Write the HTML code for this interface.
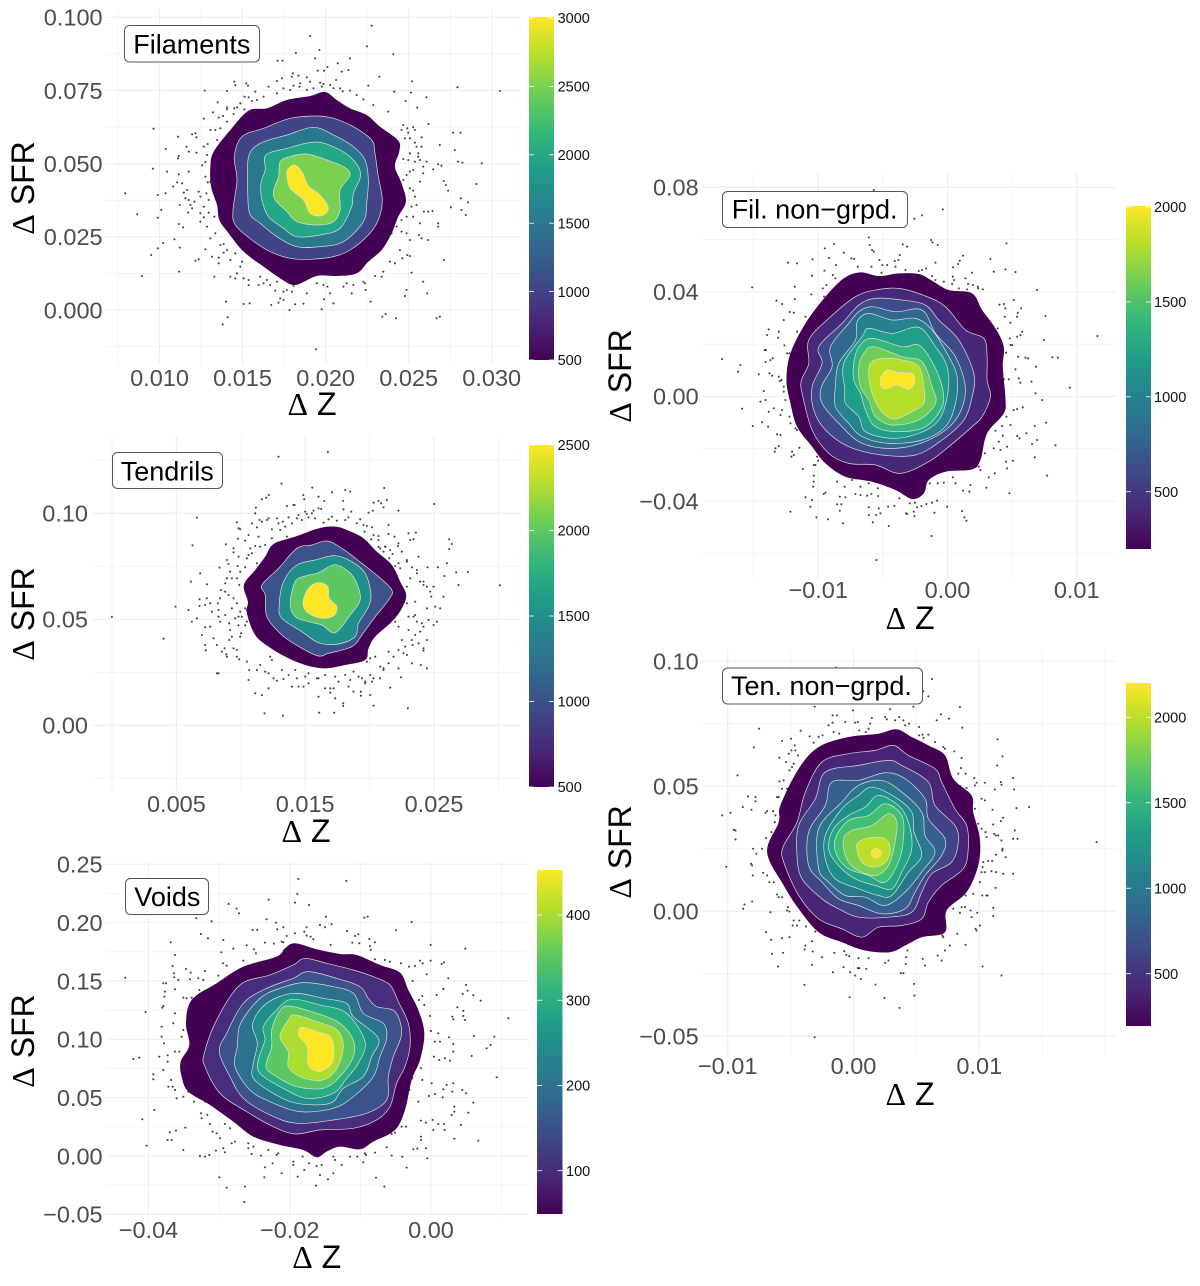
<!DOCTYPE html>
<html lang="en">
<head>
<meta charset="utf-8">
<title>Delta SFR vs Delta Z density panels</title>
<style>
html,body{margin:0;padding:0;background:#fff;}
svg{display:block;font-family:"Liberation Sans",sans-serif;filter:blur(0.3px);}
.tick{font-size:23.5px;fill:#4d4d4d;}
.bar-label{font-size:14.5px;fill:#111;}
.axis-title{font-size:32px;fill:#000;text-anchor:middle;}
.axis-title .delta{font-family:"Liberation Serif",serif;}
.panel-title{font-size:27px;fill:#000;}
.panel-box{fill:#fff;stroke:#555;stroke-width:1;}
</style>
</head>
<body>
<svg xmlns="http://www.w3.org/2000/svg" width="1200" height="1286" viewBox="0 0 1200 1286">
<defs>
<linearGradient id="viridis" x1="0" y1="1" x2="0" y2="0">
<stop offset="0" stop-color="#440154"/><stop offset="0.111" stop-color="#482878"/><stop offset="0.222" stop-color="#3e4989"/><stop offset="0.333" stop-color="#31688e"/><stop offset="0.444" stop-color="#26828e"/><stop offset="0.556" stop-color="#1f9e89"/><stop offset="0.667" stop-color="#35b779"/><stop offset="0.778" stop-color="#6ece58"/><stop offset="0.889" stop-color="#b5de2b"/><stop offset="1" stop-color="#fde725"/>
</linearGradient>
</defs>

<g id="panel-filaments">
<g class="grid"></g>
<g class="points"></g>
<g class="contours"></g>
<g class="ticks"></g>
<rect class="panel-box" x="124.5" y="25.5" width="135" height="36.5" rx="5"/>
<text class="panel-title" x="133.3" y="53.3">Filaments</text>
<text class="axis-title" transform="translate(34,188) rotate(-90)"><tspan class="delta">Δ</tspan> SFR</text>
<text class="axis-title" x="312" y="415"><tspan class="delta">Δ</tspan> Z</text>
<rect x="529" y="17" width="25" height="343" fill="url(#viridis)"/>
<g class="bar"></g>
</g>

<g id="panel-tendrils">
<g class="grid"></g>
<g class="points"></g>
<g class="contours"></g>
<g class="ticks"></g>
<rect class="panel-box" x="112.5" y="452.5" width="110" height="36" rx="5"/>
<text class="panel-title" x="120.7" y="480.3">Tendrils</text>
<text class="axis-title" transform="translate(34,614) rotate(-90)"><tspan class="delta">Δ</tspan> SFR</text>
<text class="axis-title" x="306" y="842"><tspan class="delta">Δ</tspan> Z</text>
<rect x="529" y="445" width="25" height="342" fill="url(#viridis)"/>
<g class="bar"></g>
</g>

<g id="panel-voids">
<g class="grid"></g>
<g class="points"></g>
<g class="contours"></g>
<g class="ticks"></g>
<rect class="panel-box" x="125.5" y="878.5" width="83" height="36" rx="5"/>
<text class="panel-title" x="134.3" y="906">Voids</text>
<text class="axis-title" transform="translate(34,1041) rotate(-90)"><tspan class="delta">Δ</tspan> SFR</text>
<text class="axis-title" x="316.7" y="1268"><tspan class="delta">Δ</tspan> Z</text>
<rect x="537" y="870" width="25.5" height="344" fill="url(#viridis)"/>
<g class="bar"></g>
</g>

<g id="panel-filnon">
<g class="grid"></g>
<g class="points"></g>
<g class="contours"></g>
<g class="ticks"></g>
<rect class="panel-box" x="722.5" y="191.5" width="185" height="36" rx="5"/>
<text class="panel-title" x="731.7" y="218.7">Fil. non−grpd.</text>
<text class="axis-title" transform="translate(631,376) rotate(-90)"><tspan class="delta">Δ</tspan> SFR</text>
<text class="axis-title" x="910" y="629"><tspan class="delta">Δ</tspan> Z</text>
<rect x="1126" y="206" width="25" height="343" fill="url(#viridis)"/>
<g class="bar"></g>
</g>

<g id="panel-tennon">
<g class="grid"></g>
<g class="points"></g>
<g class="contours"></g>
<g class="ticks"></g>
<rect class="panel-box" x="722.5" y="668" width="200" height="36" rx="5"/>
<text class="panel-title" x="731" y="695">Ten. non−grpd.</text>
<text class="axis-title" transform="translate(631,852) rotate(-90)"><tspan class="delta">Δ</tspan> SFR</text>
<text class="axis-title" x="910" y="1105"><tspan class="delta">Δ</tspan> Z</text>
<rect x="1126" y="683" width="25" height="343" fill="url(#viridis)"/>
<g class="bar"></g>
</g>
</svg>

<script>
/* ---- values ---- */
/* Contours and scatter values are offsets from each panel's mean, in hundredths of that panel's sd, as flat dx,dy lists. */

const palette5 = ['#440154','#3b528b','#21908c','#5dc863','#fde725'];
const palette6 = ['#440154','#414487','#2a788e','#22a884','#7ad151','#fde725'];
const palette9 = ['#440154','#472d7b','#3b528b','#2c728e','#21908c','#27ad81','#5dc863','#aadc32','#fde725'];
const palette10 = ['#440154','#482878','#3e4a89','#31688e','#26828e','#1f9e89','#35b779','#6ece58','#b5de2b','#fde725'];
const palette11 = ['#440154','#482576','#414487','#35608d','#2a788e','#21908c','#22a884','#43bf71','#7ad151','#bddf26','#fde725'];

/* Filaments */
const filamentsMeanX = 0.01967, filamentsMeanY = 0.04214, filamentsSdX = 0.002002, filamentsSdY = 0.011388;
const filamentsXMajor = [0.010,0.015,0.020,0.025,0.030];
const filamentsXLabels = ['0.010','0.015','0.020','0.025','0.030'];
const filamentsXMinor = [0.0075,0.0125,0.0175,0.0225,0.0275];
const filamentsYMajor = [0,0.025,0.05,0.075,0.1];
const filamentsYLabels = ['0.000','0.025','0.050','0.075','0.100'];
const filamentsYMinor = [-0.0125,0.0125,0.0375,0.0625,0.0875];
const filamentsBarTicks = [500,1000,1500,2000,2500,3000];
const filamentsContours = [
[15,284,50,260,90,235,140,215,180,180,235,138,238,105,225,60,245,10,258,-45,235,-90,215,-140,185,-190,145,-225,110,-260,50,-268,-10,-268,-75,-295,-120,-275,-170,-240,-230,-195,-275,-140,-303,-100,-310,-55,-328,0,-330,60,-320,105,-270,170,-215,228,-160,235,-100,260,-30,272],
[-10,212,40,205,100,180,155,140,165,100,175,30,187,-40,175,-100,145,-145,90,-190,40,-210,-30,-218,-90,-215,-150,-195,-205,-160,-255,-115,-262,-70,-250,20,-258,90,-235,150,-170,175,-90,205],
[-20,178,40,155,100,120,135,80,145,20,140,-50,130,-105,70,-165,0,-180,-70,-180,-130,-150,-180,-110,-212,-80,-218,0,-215,90,-180,130,-100,155],
[-15,134,50,115,100,80,122,35,100,-20,95,-60,60,-125,0,-145,-70,-150,-110,-125,-155,-90,-175,-40,-178,10,-165,50,-163,95,-100,115],
[-40,98,20,80,70,60,90,35,60,-10,60,-70,40,-105,-10,-115,-70,-105,-100,-75,-135,-40,-140,-10,-125,30,-120,75,-90,90],
[-75,65,-52,40,-35,2,0,-25,25,-65,5,-87,-30,-80,-50,-40,-90,-5,-100,35,-95,55]
];
const filamentsPoints = [155,483,-30,452,141,421,-2,410,-73,401,220,397,90,385,-15,385,-128,378,-113,378,53,370,22,359,-7,348,12,348,85,350,65,345,-82,340,-65,333,-85,330,48,320,-40,328,-30,315,0,312,10,308,5,300,-80,303,-62,300,-130,317,-115,325,-155,300,-110,295,-40,290,40,295,68,286,90,288,110,275,145,303,178,330,277,316,273,282,223,285,257,257,320,268,413,298,541,287,292,237,-258,315,-255,304,-222,310,-217,303,-347,288,-280,287,-308,253,-280,238,-195,285,-215,268,-227,270,-190,260,-205,257,-258,235,-250,238,-228,232,-322,223,-350,204,-292,212,-305,207,-260,218,-280,232,-330,170,-315,170,-300,175,-501,174,-385,157,-375,160,-372,148,-427,150,-402,120,-464,113,-503,54,-425,92,-427,85,-350,120,-372,102,-395,105,-338,128,-345,74,-355,64,-395,45,-460,45,-425,37,-415,10,-430,13,-442,0,-400,-10,-410,-18,-488,-25,-465,-20,-586,-20,-378,-45,-395,-40,-390,-55,-360,-30,-335,-40,-342,-20,-338,13,-330,15,-422,-55,-405,-35,-385,-65,-550,-83,-478,-70,-488,-93,-397,-78,-360,-80,-360,-105,-350,-92,-425,-112,-412,-122,-318,-90,-335,-78,-330,-155,-315,-140,-438,-158,-472,-169,-488,-185,-508,-205,-422,-183,-345,-188,-375,-222,-365,-218,-325,-210,-305,-213,-305,-230,-424,-255,-536,-268,-290,-172,-280,-190,-290,-198,-255,-200,-235,-225,-318,-270,-270,-270,-250,-260,-255,-275,-230,-275,-215,-280,-215,-295,-185,-295,-170,-290,-160,-280,-130,-285,-135,-312,-110,-315,-80,-298,-85,-315,-120,-335,-110,-340,-125,-348,-147,-355,-230,-352,-212,-350,-283,-345,-278,-392,-293,-413,-92,-370,-75,-353,-50,-351,10,-295,-10,-290,22,-300,40,-350,12,-338,5,-368,80,-290,100,-295,135,-290,165,-268,185,-270,137,-310,95,-320,152,-345,225,-230,262,-205,270,-208,247,-215,275,-258,260,-310,255,-328,310,-285,322,-320,372,-220,325,-160,305,-155,297,-145,260,-140,245,-135,215,-140,230,-120,245,-100,275,-60,260,-90,280,-90,325,-75,338,-73,312,-75,355,-110,355,-120,393,-62,423,-35,445,-47,425,-70,438,-85,372,17,378,5,385,-12,470,8,486,70,428,72,415,75,405,110,360,125,400,162,422,162,326,188,305,148,280,178,262,175,245,170,265,162,255,145,285,132,270,100,295,100,305,120,295,90,250,83,265,80,285,75,320,75,310,60,280,50,270,45,340,52,355,67,365,63,250,20,270,-5,280,-12,260,35,187,-390,197,-382,228,-395,350,-395,360,-390,-12,-488,
-60,310,-20,295,30,305,60,295,130,262,160,245,205,225,250,185,285,170,270,145,290,120,300,80,310,40,300,15,285,-30,290,-55,300,-110,270,-160,240,-190,210,-225,190,-255,130,-285,70,-300,30,-320,-40,-320,-100,-310,-150,-295,-180,-270,-240,-240,-270,-220,-300,-175,-340,-120,-350,-60,-365,-15,-345,30,-340,95,-310,140,-280,195,-240,250,-170,270,-130,280,-90,290];

/* Tendrils */
const tendrilsMeanX = 0.015, tendrilsMeanY = 0.05596, tendrilsSdX = 0.002588, tendrilsSdY = 0.015723;
const tendrilsXMajor = [0.005,0.015,0.025];
const tendrilsXLabels = ['0.005','0.015','0.025'];
const tendrilsXMinor = [0,0.01,0.02,0.03];
const tendrilsYMajor = [0,0.05,0.1];
const tendrilsYLabels = ['0.00','0.05','0.10'];
const tendrilsYMinor = [-0.025,0.025,0.075,0.125];
const tendrilsBarTicks = [500,1000,1500,2000,2500];
const tendrilsContours = [
[90,240,130,228,175,205,215,165,260,125,285,75,303,35,290,-5,260,-45,210,-90,190,-125,180,-160,120,-175,60,-185,0,-175,-60,-150,-110,-120,-150,-85,-175,-20,-172,15,-184,65,-150,110,-120,150,-95,188,-30,210,40,235],
[65,197,110,175,170,130,220,90,260,50,250,20,210,-30,170,-85,140,-120,70,-140,40,-148,-10,-125,-70,-85,-115,-30,-120,35,-130,65,-80,115,-25,175,20,185],
[90,153,140,135,180,100,197,40,190,0,160,-50,150,-90,100,-112,40,-108,-10,-75,-70,-35,-78,5,-65,75,-25,125,30,140],
[88,126,130,105,155,70,165,20,135,-25,90,-78,50,-55,10,-45,-30,-30,-45,10,-30,75,0,92,40,102],
[40,72,68,60,72,25,95,0,85,-28,50,-35,10,-20,-7,10,10,55]
];
const tendrilsPoints = [68,464,-80,450,-71,369,21,357,237,356,120,350,135,345,81,343,-109,335,-130,322,-117,327,-6,335,-3,322,40,330,114,317,205,312,220,317,228,310,245,320,387,308,57,317,-55,302,-35,305,-32,305,40,295,48,293,25,288,0,285,5,278,115,292,138,285,190,282,203,288,235,298,280,288,-148,297,-150,280,-160,250,-137,260,-130,255,-115,260,-85,265,-67,255,-50,268,-25,265,-10,260,10,268,55,252,80,270,120,260,155,250,185,242,200,238,250,245,178,225,198,202,220,200,250,218,268,210,280,190,310,220,332,222,325,202,315,200,-205,253,-200,235,-195,232,-145,238,-100,232,-75,230,-55,210,-180,198,-202,204,-150,182,-135,180,-170,155,-160,160,-175,145,-215,163,-238,187,-325,267,-338,184,-315,100,-257,117,-230,128,-203,122,-180,118,-145,130,-235,85,-220,85,-205,85,-198,65,-253,50,-240,45,-230,35,-255,25,-262,10,-260,-10,-343,75,-295,67,-317,22,-285,10,-317,2,-300,5,-350,-10,-389,0,-580,-31,-325,-35,-340,-45,-300,-62,-260,-30,-255,-45,-200,-30,-190,-30,-180,-5,-175,-10,-220,-5,-228,-50,-200,-56,-180,-56,-175,-45,-192,-80,-195,-90,-220,-90,-228,-100,-242,-125,-205,-130,-425,-96,-298,-131,-237,-143,-198,-158,-175,-165,-168,-190,-145,-190,-265,-200,-260,-200,-170,-220,-150,-260,-130,-265,-122,-320,-67,-327,-85,-222,-65,-217,-110,-200,-105,-150,-100,-160,-30,-190,-20,-240,-5,-240,10,-230,0,-210,40,-215,60,-245,85,-245,75,-258,40,-270,90,-275,114,-290,114,-298,145,-255,167,-255,167,-267,195,-265,205,-297,42,-318,87,-318,308,-305,255,-243,200,-225,205,-215,180,-225,160,-210,135,-220,235,-190,235,-185,280,-185,287,-212,320,-170,347,-175,365,-185,210,-150,185,-165,195,-155,250,-135,295,-140,305,-145,355,-125,355,-132,320,-100,345,-75,365,-100,385,-55,395,-45,370,-40,405,-5,390,0,365,-5,330,15,325,-30,330,-25,350,-50,280,-60,270,-45,305,10,305,60,315,85,355,75,355,65,375,45,385,60,415,30,460,65,418,92,453,103,488,104,584,64,432,202,440,188,432,173,425,130,398,118,367,118,335,110,305,135,340,150,280,130,270,122,285,115,252,145,255,170,240,180,278,182,220,212,220,180,240,180,
-40,250,-20,275,20,280,30,265,70,262,95,258,130,268,165,262,175,245,205,215,225,175,235,165,262,158,290,165,305,140,320,118,335,100,345,75,365,60,378,30,310,-30,335,-45,355,-60,330,-85,310,-70,290,-100,300,-120,280,-130,322,-115,340,-110,265,-150,250,-170,225,-180,195,-205,170,-215,145,-195,120,-205,90,-210,100,-225,60,-205,35,-215,10,-200,-25,-215,-50,-205,-70,-190,-95,-215,-120,-195,-135,-175,-110,-245,-40,-240,75,-245,130,-240,180,-230,225,-215,-205,-150,-215,-125,-235,-150,-250,-135,-265,-115,-225,-70,-210,-35,-195,-15,-205,10,-215,25,-240,-25,-285,-60,-275,-95,-300,-115,-310,-85,-280,-15,-295,25,-240,70,-225,105,-195,105,-200,150,-215,175,-235,140,-170,215,-165,175,-140,210,-120,185,-100,205,-80,250,-60,240,-110,265];

/* Voids */
const voidsMeanX = -0.01572, voidsMeanY = 0.10228, voidsSdX = 0.00472, voidsSdY = 0.02857;
const voidsXMajor = [-0.04,-0.02,0];
const voidsXLabels = ['−0.04','−0.02','0.00'];
const voidsXMinor = [-0.03,-0.01,0.01];
const voidsYMajor = [-0.05,0,0.05,0.1,0.15,0.2,0.25];
const voidsYLabels = ['−0.05','0.00','0.05','0.10','0.15','0.20','0.25'];
const voidsYMinor = [-0.025,0.025,0.075,0.125,0.175,0.225];
const voidsBarTicks = [100,200,300,400];
const voidsContours = [
[-75,280,-10,262,60,248,110,245,180,215,240,192,265,140,295,80,313,10,300,-70,275,-130,255,-220,225,-280,160,-315,120,-338,60,-330,20,-345,-10,-362,-50,-340,-120,-325,-200,-300,-260,-255,-330,-205,-395,-165,-415,-120,-418,-75,-392,-25,-402,40,-385,110,-310,160,-230,210,-130,240,-105,265],
[-45,235,20,220,100,200,160,180,210,155,235,105,265,40,270,-30,255,-90,230,-140,210,-210,170,-250,100,-275,0,-280,-75,-292,-140,-270,-220,-225,-300,-170,-345,-90,-347,-50,-310,50,-240,155,-150,185,-80,215],
[-35,195,50,175,120,150,145,115,170,90,225,75,245,10,220,-60,205,-120,200,-190,140,-230,40,-250,-70,-260,-150,-235,-230,-185,-270,-120,-302,-45,-280,10,-230,100,-160,145,-80,175],
[-50,162,30,152,100,130,130,70,190,40,200,-5,180,-60,160,-120,100,-180,40,-215,-60,-225,-150,-195,-210,-160,-255,-90,-248,-30,-238,40,-180,115,-120,145],
[-80,130,10,115,80,100,100,60,175,-5,155,-60,130,-120,70,-155,30,-200,-70,-200,-140,-170,-200,-125,-200,-80,-188,-20,-202,40,-160,100],
[-85,112,0,95,80,70,135,-15,115,-80,80,-125,40,-170,-40,-185,-120,-150,-180,-110,-185,-70,-165,-10,-170,30,-130,80],
[-95,92,-10,70,60,40,100,-10,100,-60,60,-120,10,-155,-70,-150,-130,-120,-162,-90,-145,-30,-145,20,-125,70],
[-75,65,-10,45,45,25,68,-10,65,-60,40,-110,0,-132,-60,-120,-95,-90,-95,-45,-120,0,-95,50],
[-50,28,-10,15,35,-5,40,-70,20,-95,-5,-105,-35,-85,-38,-30,-62,0,-63,20]
];
const voidsPoints = [-65,473,79,467,-68,428,-75,402,-154,411,-33,395,-274,398,-250,384,-243,370,-371,355,-325,346,18,360,133,357,143,360,275,344,-160,352,-132,342,-128,322,-110,328,-202,320,-188,320,0,335,35,337,15,328,-40,328,-47,315,-40,303,-28,300,-100,302,-75,310,81,317,228,319,115,307,105,302,148,293,165,283,97,282,118,280,150,272,152,260,-357,308,-336,295,-448,283,-290,290,-435,245,-296,253,-260,264,-220,274,-198,262,-192,250,-165,282,-138,279,-115,285,-110,283,-20,292,32,275,332,275,436,264,-230,228,-291,220,-280,213,-442,212,-402,203,-345,197,-388,192,-438,190,-437,178,-584,177,-425,170,-390,172,-365,175,-350,170,-305,183,-462,160,-470,160,-435,142,-465,135,-467,120,-362,140,-410,117,-400,115,-385,117,-470,92,-473,87,-523,74,-435,70,-440,40,-475,30,-410,20,-415,0,-475,0,-468,-20,-435,-45,-422,-45,-482,-60,-457,-56,-560,-67,-542,-63,-457,-75,-470,-100,-500,-113,-500,-128,-447,-130,-455,-150,-442,-150,-435,-160,-395,-165,-410,-180,-430,-185,-360,-185,-378,-195,-345,-195,-310,-212,-497,-220,-533,-248,-357,-230,-338,-235,-355,-245,-330,-262,-322,-285,-310,-290,-285,-262,-270,-275,-404,-273,-450,-287,-432,-282,-457,-310,-445,-310,-520,-327,-410,-340,-300,-305,-265,-320,-255,-315,-290,-335,-312,-342,-285,-347,-360,-358,-345,-360,-332,-355,-215,-320,-200,-330,-215,-335,-205,-352,-177,-357,-155,-340,-125,-350,-130,-355,-80,-375,-80,-385,-52,-360,-165,-392,-142,-380,-33,-380,-10,-388,5,-385,40,-360,45,-370,65,-385,90,-360,112,-360,135,-350,138,-355,165,-348,215,-357,247,-360,280,-338,292,-336,318,-335,322,-365,260,-393,130,-377,40,-410,0,-415,-47,-400,-67,-420,-115,-410,-167,-422,-302,-422,-280,-453,-225,-450,-227,-496,-12,-447,24,-428,168,-423,193,-450,245,-270,258,-270,215,-292,225,-288,200,-332,303,-252,318,-258,338,-250,355,-262,372,-262,374,-280,340,-280,303,-300,303,-310,403,-306,475,-312,423,-265,395,-235,403,-225,403,-210,445,-228,460,-198,438,-170,427,-160,400,-140,380,-145,370,-158,397,-165,368,-182,345,-172,327,-178,295,-195,268,-160,277,-125,307,-130,335,-140,303,-95,342,-60,358,-70,375,-65,390,-72,400,-45,455,-58,500,-35,512,-25,523,0,530,-122,462,2,400,-22,387,-2,360,-15,345,-15,355,10,333,17,565,55,435,50,430,62,412,88,430,77,397,60,400,52,482,108,460,124,443,138,438,155,428,128,385,175,370,143,350,125,307,122,297,110,313,95,330,62,278,167,320,187,267,210,285,212,300,228,308,220,332,228,365,218,372,223,243,220,210,225,195,230,165,232];

/* Fil. non-grpd. */
const filnonMeanX = -0.002476, filnonMeanY = 0.0152, filnonSdX = 0.002579, filnonSdY = 0.01275;
const filnonXMajor = [-0.01,0,0.01];
const filnonXLabels = ['−0.01','0.00','0.01'];
const filnonXMinor = [-0.015,-0.005,0.005];
const filnonYMajor = [-0.04,0,0.04,0.08];
const filnonYLabels = ['−0.04','0.00','0.04','0.08'];
const filnonYMinor = [-0.06,-0.02,0.02,0.06];
const filnonBarTicks = [500,1000,1500,2000];
const filnonContours = [
[-165,253,-110,242,-50,250,10,248,50,228,100,200,170,190,200,140,240,85,265,30,262,-30,270,-125,265,-170,215,-230,195,-310,170,-338,90,-345,40,-370,25,-410,-10,-427,-60,-400,-130,-375,-210,-360,-270,-320,-310,-270,-355,-210,-375,-140,-387,-70,-375,10,-330,100,-270,180,-215,235],
[-50,205,30,182,90,150,150,80,205,55,215,0,215,-70,225,-120,200,-180,170,-210,100,-270,40,-315,-45,-350,-120,-325,-200,-320,-260,-290,-310,-220,-340,-110,-342,-70,-320,-20,-320,50,-260,115,-180,180,-120,200],
[-120,175,-40,170,30,155,70,110,130,50,175,-50,170,-120,145,-190,80,-250,0,-295,-100,-295,-200,-270,-270,-220,-305,-160,-310,-90,-280,-20,-290,30,-220,100,-170,155],
[-130,150,-60,135,20,140,60,70,120,0,150,-100,120,-190,40,-250,-60,-275,-160,-260,-230,-200,-280,-140,-282,-90,-250,-30,-255,30,-200,100,-170,135],
[-140,130,-70,110,0,115,50,80,100,0,125,-60,120,-140,90,-210,20,-250,-80,-260,-160,-240,-200,-200,-240,-150,-240,-90,-230,-20,-180,50,-175,105],
[-140,85,-70,70,10,88,60,30,95,-30,97,-110,70,-190,10,-230,-70,-245,-150,-225,-170,-180,-210,-140,-212,-100,-215,-20,-160,60],
[-130,55,-40,30,10,35,50,-15,80,-90,80,-150,30,-210,-50,-225,-120,-210,-150,-160,-165,-110,-185,-70,-185,-20,-170,30],
[-125,30,-40,0,20,-15,50,-90,60,-140,10,-190,-70,-205,-120,-180,-140,-130,-165,-90,-170,-30,-155,10],
[-100,-5,-40,-10,10,-30,25,-90,25,-140,-10,-165,-65,-187,-105,-160,-130,-110,-140,-60,-135,-20],
[-85,-40,-50,-48,-10,-50,-2,-75,-20,-98,-55,-85,-90,-97,-105,-85,-103,-60]
];
const filnonPoints = [82,442,20,424,-3,414,-125,500,-140,358,47,350,51,343,67,335,-38,337,-25,330,273,340,-137,335,-130,320,-125,315,-272,325,-244,338,-215,312,-259,296,-309,292,-382,282,-355,280,-192,295,-184,293,-238,275,-108,290,-99,275,-85,275,-62,287,-51,290,-47,305,-60,270,-173,270,-132,270,60,282,143,303,133,288,128,278,113,268,225,293,270,262,300,254,235,255,-102,252,-30,260,10,257,20,260,32,265,50,242,60,230,85,225,112,240,116,230,110,218,150,235,170,252,158,218,172,215,130,205,155,202,187,210,202,202,188,205,365,200,-273,258,-310,243,-248,245,-240,235,-267,215,-278,205,-362,210,-490,208,-312,187,-362,173,-417,168,-274,180,-400,158,-377,134,-365,132,-395,110,-330,120,-410,75,-445,65,-412,57,-440,82,-355,75,-393,34,-378,10,-452,20,-448,20,-428,-5,-435,-10,-450,-16,-385,10,-580,-7,-525,-25,-532,-45,-470,-53,-438,-50,-430,-57,-410,-60,-402,-70,-407,-73,-395,-90,-455,-103,-395,-105,-390,-130,-450,-130,-465,-135,-520,-156,-425,-155,-440,-165,-400,-160,-405,-175,-460,-197,-488,-208,-442,-210,-378,-180,-375,-200,-360,-215,-355,-220,-415,-233,-405,-235,-410,-268,-420,-275,-422,-285,-348,-273,-370,-285,-365,-295,-372,-300,-338,-337,-295,-300,-305,-325,-300,-325,-292,-312,-305,-357,-305,-375,-307,-390,-235,-375,-212,-390,-190,-370,-165,-390,-140,-380,-113,-395,-270,-408,-275,-412,-180,-412,-165,-415,-145,-417,-132,-412,-112,-418,-330,-422,-310,-430,-315,-450,-375,-465,-227,-420,-210,-422,-235,-443,-222,-443,-227,-462,-297,-482,-262,-488,-217,-500,-128,-497,-80,-508,-140,-452,-110,-455,-140,-475,-118,-475,-105,-470,-82,-450,-63,-448,-48,-425,-28,-470,-25,-472,-5,-465,-3,-478,-17,-440,-2,-438,5,-452,18,-448,33,-442,50,-438,65,-432,57,-468,95,-450,140,-463,147,-482,153,-492,48,-538,-117,-610,43,-380,67,-380,85,-378,112,-362,120,-380,143,-402,165,-385,162,-405,213,-393,220,-362,238,-350,282,-410,190,-330,195,-340,208,-290,235,-275,275,-270,255,-280,272,-315,292,-312,275,-335,358,-302,395,-357,420,-266,365,-250,350,-262,312,-245,305,-238,333,-230,358,-208,392,-198,285,-205,262,-237,250,-255,240,-222,260,-208,273,-180,295,-160,305,-157,322,-152,380,-130,360,-110,463,-93,315,-78,280,-68,265,-68,348,-75,310,-65,300,-38,362,-30,411,-2,427,-3,308,0,330,-3,338,-5,272,12,285,35,290,35,305,60,315,65,320,75,283,55,247,85,285,102,268,120,307,132,305,120,317,145,295,170,265,158,252,156,270,145,385,50,390,122,546,62];

/* Ten. non-grpd. */
const tennonMeanX = 0.004893, tennonMeanY = 0.03161, tennonSdX = 0.002643, tennonSdY = 0.013333;
const tennonXMajor = [-0.01,0,0.01];
const tennonXLabels = ['−0.01','0.00','0.01'];
const tennonXMinor = [-0.005,0.005,0.015,0.02];
const tennonYMajor = [-0.05,0,0.05,0.1];
const tennonYLabels = ['−0.05','0.00','0.05','0.10'];
const tennonYMinor = [-0.025,0.025,0.075];
const tennonBarTicks = [500,1000,1500,2000];
const tennonContours = [
[-55,308,-10,285,40,260,90,230,115,160,170,110,175,60,195,-20,190,-100,155,-180,95,-235,90,-300,20,-315,-30,-340,-75,-360,-150,-355,-220,-330,-290,-300,-350,-230,-395,-160,-445,-60,-410,30,-405,80,-350,190,-290,255,-200,285,-110,295],
[-65,260,-20,230,60,190,80,150,120,70,155,20,160,-50,145,-110,80,-160,40,-210,20,-260,-40,-280,-110,-285,-160,-315,-220,-290,-290,-260,-350,-190,-395,-90,-397,-45,-355,30,-330,120,-280,210,-200,235,-120,245],
[-80,215,-40,200,40,150,60,80,120,20,130,-30,110,-90,50,-125,20,-180,-10,-240,-80,-255,-170,-255,-230,-230,-280,-200,-340,-140,-355,-70,-350,20,-300,100,-270,180,-170,200],
[-90,178,-30,160,30,100,40,40,90,-20,80,-70,30,-130,0,-180,-30,-230,-100,-245,-170,-220,-230,-200,-280,-150,-320,-100,-320,0,-270,80,-250,150,-170,155],
[-100,155,-40,120,20,60,30,-10,60,-60,20,-120,-30,-180,-90,-220,-150,-195,-210,-190,-260,-150,-290,-110,-290,10,-220,90,-170,140],
[-130,135,-60,105,-10,60,-3,0,20,-70,-20,-120,-70,-190,-110,-190,-170,-170,-240,-140,-270,-80,-270,-10,-220,70,-170,110],
[-110,110,-50,80,-20,30,-10,-50,-40,-120,-70,-170,-120,-160,-180,-140,-230,-100,-260,-50,-245,10,-200,50,-150,75],
[-90,85,-40,50,-35,-20,-50,-90,-90,-150,-140,-130,-200,-110,-235,-70,-240,-20,-200,35,-140,50],
[-80,55,-55,30,-60,-30,-80,-100,-120,-130,-180,-110,-210,-70,-215,-20,-190,5,-130,20],
[-135,-17,-90,-20,-75,-50,-85,-85,-120,-105,-160,-90,-175,-50,-170,-30],
[-117,-48,-102,-60,-105,-72,-117,-78,-130,-70,-130,-55]
];
const tennonPoints = [-238,493,51,459,25,422,40,407,-302,376,-187,365,-82,385,-5,376,135,375,-75,368,78,353,102,340,65,335,-90,345,-85,338,-60,335,-48,345,-35,335,-30,320,-18,325,-248,350,-235,350,-248,328,-260,320,-210,330,-180,328,-172,330,-130,342,-135,325,-140,310,-148,300,-168,305,-228,295,-245,300,-278,290,-290,285,-317,287,-305,268,-344,304,-469,310,-485,254,-373,280,-362,260,-400,273,-360,245,-372,245,-352,230,-380,235,-408,223,-388,210,-365,205,-370,195,-378,185,-534,170,-395,155,-408,152,-400,130,-385,130,-415,105,-410,105,-502,107,-480,105,-480,92,-518,75,-492,67,-445,63,-450,58,-427,63,-420,50,-555,58,-580,50,-422,30,-545,7,-540,5,-540,-22,-448,-18,-432,0,-487,-50,-477,-65,-460,-50,-568,-104,-493,-95,-490,-100,-457,-122,-445,-130,-488,-130,-438,-150,-425,-150,-415,-187,-410,-195,-400,-195,-490,-208,-513,-217,-517,-230,-382,-225,-385,-235,-378,-238,-435,-240,-365,-265,-368,-280,-355,-280,-348,-265,-328,-283,-300,-298,-448,-300,-433,-323,-400,-318,-378,-315,-430,-365,-397,-362,-412,-403,-330,-340,-332,-352,-310,-327,-308,-358,-280,-375,-243,-362,-213,-357,-207,-368,-198,-372,-170,-378,-140,-378,-310,-398,-247,-420,-215,-405,-195,-420,-172,-408,-168,-408,-147,-410,-180,-430,-163,-440,-333,-458,-197,-495,-119,-457,-92,-497,-47,-527,-302,-615,-3,-455,-2,-490,-43,-423,-35,-423,-90,-392,-80,-385,-27,-375,-23,-355,-28,-395,23,-380,30,-400,68,-370,80,-385,90,-355,105,-340,127,-305,152,-338,82,-310,85,-315,185,-295,182,-290,195,-280,203,-403,260,-430,235,-227,235,-252,187,-242,167,-235,170,-255,115,-230,135,-242,140,-225,150,-225,152,-190,175,-185,202,-190,215,-190,218,-190,242,-167,195,-150,200,-120,210,-120,230,-117,265,-125,295,-125,243,-120,203,-105,205,-90,220,-87,232,-87,243,-68,272,-75,262,-55,263,-50,260,-25,250,-10,238,-5,243,-10,215,-15,212,0,190,25,200,10,235,23,258,33,265,43,233,67,200,100,210,95,180,70,305,72,343,75,300,5,295,-20,308,-20,298,128,295,162,258,150,260,142,240,128,210,148,185,148,180,140,178,162,155,132,135,138,130,175,152,175,138,192,247,200,263,227,248,278,140,222,118,242,85,255,90,250,60,270,40,292,22,292,12,290,25,282,12,315,142,313,546,-30];

/* ---- axis and layout anchors: pairs of data value and page coordinate ---- */
const frames = {
  filaments:{dx:[0.010,0.030],px:[159.5,491.7],dy:[0,0.1],py:[310,17.3],l:105.6,r:520,t:9,b:365,yr:102.6,xb:386,dbar:[500,3000],pbar:[360,18],bl:529,bw:25,blab:557.6},
  tendrils:{dx:[0.005,0.025],px:[176.4,434],dy:[0,0.1],py:[725.3,513.3],l:92,r:520,t:436,b:791,yr:88,xb:812,dbar:[500,2500],pbar:[787,445],bl:529,bw:25,blab:557.6},
  voids:{dx:[-0.04,0],px:[148.5,431],dy:[-0.05,0.25],py:[1214.3,864.3],l:106,r:528,t:862,b:1218,yr:102.6,xb:1238,dbar:[100,400],pbar:[1170.7,915],bl:537,bw:25.5,blab:566},
  filnon:{dx:[-0.01,0.01],px:[818.2,1076.7],dy:[-0.04,0.08],py:[501,187.3],l:702.6,r:1116.6,t:173,b:579,yr:698.7,xb:598,dbar:[500,2000],pbar:[491.7,207],bl:1126,bw:25,blab:1154},
  tennon:{dx:[-0.01,0.01],px:[727.7,979.3],dy:[-0.05,0.1],py:[1036.3,661],l:702.6,r:1116.6,t:650,b:1055,yr:698.7,xb:1074,dbar:[500,2000],pbar:[973.7,717.3],bl:1126,bw:25,blab:1154}
};

const SVGNS = 'http://www.w3.org/2000/svg';
function linear(d, p){ return v => p[0] + (v - d[0]) * (p[1] - p[0]) / (d[1] - d[0]); }
function shape(tag, attrs){
  const el = document.createElementNS(SVGNS, tag);
  for (const k in attrs) el.setAttribute(k, attrs[k]);
  return el;
}
function smoothClosed(xy){
  const n = xy.length, f = v => v.toFixed(2);
  let d = 'M' + f(xy[0][0]) + ' ' + f(xy[0][1]);
  for (let i = 0; i < n; i++){
    const p0 = xy[(i - 1 + n) % n], p1 = xy[i], p2 = xy[(i + 1) % n], p3 = xy[(i + 2) % n];
    d += 'C' + f(p1[0] + (p2[0] - p0[0]) / 6) + ' ' + f(p1[1] + (p2[1] - p0[1]) / 6) + ' ' +
         f(p2[0] - (p3[0] - p1[0]) / 6) + ' ' + f(p2[1] - (p3[1] - p1[1]) / 6) + ' ' + f(p2[0]) + ' ' + f(p2[1]);
  }
  return d + 'Z';
}

function drawPanel(id, frame, s){
  const root = document.getElementById('panel-' + id);
  const grid = root.querySelector('.grid'), pts = root.querySelector('.points'),
        con = root.querySelector('.contours'), tks = root.querySelector('.ticks'), bar = root.querySelector('.bar');
  const xAxis = linear(frame.dx, frame.px), yAxis = linear(frame.dy, frame.py), barAxis = linear(frame.dbar, frame.pbar);
  const xOf = u => xAxis(s.meanX + u / 100 * s.sdX), yOf = v => yAxis(s.meanY + v / 100 * s.sdY);

  s.xMinor.forEach(v => {
    const el = shape('line', {x1:xAxis(v), x2:xAxis(v), y1:frame.t, y2:frame.b, stroke:'#f3f3f3', 'stroke-width':0.9});
    
    
    grid.appendChild(el);
  });
  s.yMinor.forEach(v => {
    const el = shape('line', {x1:frame.l, x2:frame.r, y1:yAxis(v), y2:yAxis(v), stroke:'#f3f3f3', 'stroke-width':0.9});
    
    
    grid.appendChild(el);
  });
  s.xMajor.forEach((v, i) => {
    const el = shape('line', {x1:xAxis(v), x2:xAxis(v), y1:frame.t, y2:frame.b, stroke:'#eeeeee', 'stroke-width':1.1});
    
    
    grid.appendChild(el);
    const t = shape('text', {x:xAxis(v), y:frame.xb, 'text-anchor':'middle', class:'tick'});
    
    
    t.textContent = s.xLabels[i];
    tks.appendChild(t);
  });
  s.yMajor.forEach((v, i) => {
    const el = shape('line', {x1:frame.l, x2:frame.r, y1:yAxis(v), y2:yAxis(v), stroke:'#eeeeee', 'stroke-width':1.1});
    
    
    grid.appendChild(el);
    const t = shape('text', {x:frame.yr, y:yAxis(v) + 8.3, 'text-anchor':'end', class:'tick'});
    
    
    t.textContent = s.yLabels[i];
    tks.appendChild(t);
  });

  for (let i = 0; i + 1 < s.points.length; i += 2){
    const c = shape('circle', {cx:xOf(s.points[i]).toFixed(2), cy:yOf(s.points[i + 1]).toFixed(2), r:1.05, fill:'#222', 'fill-opacity':0.85});
    
    
    pts.appendChild(c);
  }

  s.contours.forEach((flat, level) => {
    const xy = [];
    for (let i = 0; i + 1 < flat.length; i += 2) xy.push([xOf(flat[i]), yOf(flat[i + 1])]);
    const path = shape('path', {d:smoothClosed(xy), fill:s.palette[level]});
    if (level > 0){ path.setAttribute('stroke', '#dcdcdc'); path.setAttribute('stroke-width', '0.7'); }
    
    
    con.appendChild(path);
  });

  s.barTicks.forEach(v => {
    const y = barAxis(v);
    const a = shape('line', {x1:frame.bl, x2:frame.bl + 5, y1:y, y2:y, stroke:'#fff', 'stroke-width':0.8});
    
    
    bar.appendChild(a);
    const b = shape('line', {x1:frame.bl + frame.bw - 5, x2:frame.bl + frame.bw, y1:y, y2:y, stroke:'#fff', 'stroke-width':0.8});
    
    
    bar.appendChild(b);
    const t = shape('text', {x:frame.blab, y:y + 5.2, class:'bar-label'});
    
    
    t.textContent = String(v);
    bar.appendChild(t);
  });
}

drawPanel('filaments', frames.filaments, {meanX:filamentsMeanX, meanY:filamentsMeanY, sdX:filamentsSdX, sdY:filamentsSdY, xMajor:filamentsXMajor, xLabels:filamentsXLabels, xMinor:filamentsXMinor, yMajor:filamentsYMajor, yLabels:filamentsYLabels, yMinor:filamentsYMinor, barTicks:filamentsBarTicks, contours:filamentsContours, points:filamentsPoints, palette:palette6});
drawPanel('tendrils', frames.tendrils, {meanX:tendrilsMeanX, meanY:tendrilsMeanY, sdX:tendrilsSdX, sdY:tendrilsSdY, xMajor:tendrilsXMajor, xLabels:tendrilsXLabels, xMinor:tendrilsXMinor, yMajor:tendrilsYMajor, yLabels:tendrilsYLabels, yMinor:tendrilsYMinor, barTicks:tendrilsBarTicks, contours:tendrilsContours, points:tendrilsPoints, palette:palette5});
drawPanel('voids', frames.voids, {meanX:voidsMeanX, meanY:voidsMeanY, sdX:voidsSdX, sdY:voidsSdY, xMajor:voidsXMajor, xLabels:voidsXLabels, xMinor:voidsXMinor, yMajor:voidsYMajor, yLabels:voidsYLabels, yMinor:voidsYMinor, barTicks:voidsBarTicks, contours:voidsContours, points:voidsPoints, palette:palette9});
drawPanel('filnon', frames.filnon, {meanX:filnonMeanX, meanY:filnonMeanY, sdX:filnonSdX, sdY:filnonSdY, xMajor:filnonXMajor, xLabels:filnonXLabels, xMinor:filnonXMinor, yMajor:filnonYMajor, yLabels:filnonYLabels, yMinor:filnonYMinor, barTicks:filnonBarTicks, contours:filnonContours, points:filnonPoints, palette:palette10});
drawPanel('tennon', frames.tennon, {meanX:tennonMeanX, meanY:tennonMeanY, sdX:tennonSdX, sdY:tennonSdY, xMajor:tennonXMajor, xLabels:tennonXLabels, xMinor:tennonXMinor, yMajor:tennonYMajor, yLabels:tennonYLabels, yMinor:tennonYMinor, barTicks:tennonBarTicks, contours:tennonContours, points:tennonPoints, palette:palette11});
</script>
</body>
</html>
